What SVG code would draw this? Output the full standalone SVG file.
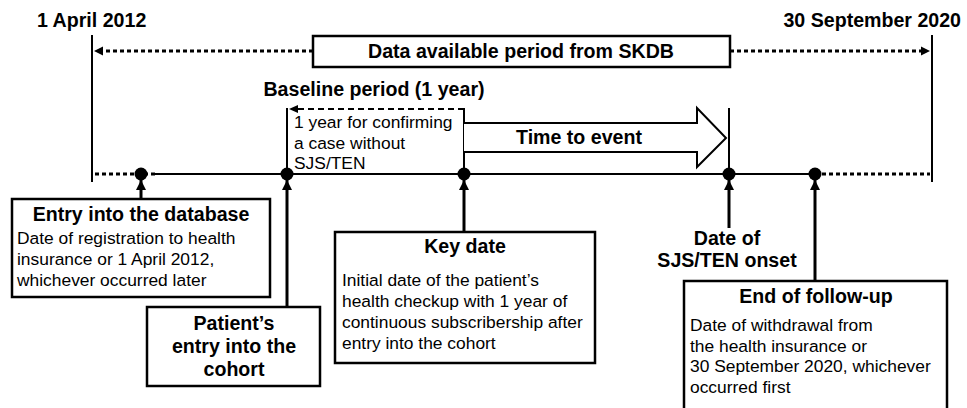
<svg xmlns="http://www.w3.org/2000/svg" width="967" height="408" viewBox="0 0 967 408">
<style>
.b{font-family:"Liberation Sans",Arial,sans-serif;font-weight:bold;font-size:19.6px;fill:#000}
.n{font-family:"Liberation Sans",Arial,sans-serif;font-size:17.4px;fill:#000}
.c{text-anchor:middle}
.box{fill:#fff;stroke:#000;stroke-width:2.5}
.ln{stroke:#000;stroke-width:2;fill:none}
.dot{stroke:#000;stroke-width:3;stroke-dasharray:4 3;fill:none}
.arr{stroke:#000;stroke-width:3;fill:none;marker-end:url(#ah)}
</style>
<defs>
<marker id="ah" markerUnits="userSpaceOnUse" markerWidth="10" markerHeight="10" refX="10" refY="5" orient="auto"><path d="M0,0 L10,5 L0,10 z" fill="#000"/></marker>
</defs>
<rect width="967" height="408" fill="#fff"/>
<g id="connectors">
<line class="ln" x1="92" y1="35" x2="92" y2="182"/>
<line class="ln" x1="932" y1="35" x2="932" y2="182"/>
<line class="dot" x1="313" y1="51" x2="102" y2="51"/>
<path d="M94,51 L103,46.5 L103,55.5 z" fill="#000"/>
<line class="dot" x1="730" y1="51" x2="922" y2="51"/>
<path d="M930,51 L921,46.5 L921,55.5 z" fill="#000"/>
<line class="dot" x1="95" y1="174" x2="157" y2="174"/>
<line class="ln" x1="155" y1="174" x2="815" y2="174" stroke-width="2.5"/>
<line class="dot" x1="815" y1="174" x2="930" y2="174"/>
<line class="ln" x1="287" y1="108" x2="287" y2="174"/>
<line class="ln" x1="464" y1="108" x2="464" y2="174"/>
<line class="ln" x1="729" y1="108" x2="729" y2="174"/>
<line class="ln" x1="464" y1="109" x2="296" y2="109" stroke-dasharray="6 4"/>
<path d="M289,109 L298,105 L298,113 z" fill="#000"/>
<path d="M464,123 L697,123 L697,108 L726,138 L697,167 L697,152 L464,152" fill="#fff" stroke="#000" stroke-width="2"/>
<circle cx="141" cy="174" r="6.5"/>
<circle cx="287" cy="174" r="6.5"/>
<circle cx="464" cy="174" r="6.5"/>
<circle cx="729" cy="174" r="6.5"/>
<circle cx="815" cy="174" r="6.5"/>
<line class="arr" x1="141" y1="199" x2="141" y2="180"/>
<line class="arr" x1="287" y1="307" x2="287" y2="180"/>
<line class="arr" x1="464" y1="232" x2="464" y2="180"/>
<line class="arr" x1="729" y1="228" x2="729" y2="180"/>
<line class="arr" x1="815" y1="281" x2="815" y2="180"/>
</g>
<g id="label-start"><text class="b" x="37" y="27">1 April 2012</text></g>
<g id="label-end"><text class="b" x="961" y="27" text-anchor="end">30 September 2020</text></g>
<g id="data-period">
<rect class="box" x="313" y="36" width="417" height="31"/>
<text class="b c" x="521" y="58">Data available period from SKDB</text>
</g>
<g id="baseline">
<text class="b c" x="374" y="96">Baseline period (1 year)</text>
<text class="n" x="294" y="128">1 year for confirming</text>
<text class="n" x="294" y="149">a case without</text>
<text class="n" x="294" y="169">SJS/TEN</text>
</g>
<g id="time-to-event"><text class="b c" x="579" y="144">Time to event</text></g>
<g id="entry-db">
<rect class="box" x="12" y="199" width="258" height="98"/>
<text class="b c" x="141" y="221">Entry into the database</text>
<text class="n" x="17" y="244">Date of registration to health</text>
<text class="n" x="17" y="265">insurance or 1 April 2012,</text>
<text class="n" x="17" y="286">whichever occurred later</text>
</g>
<g id="patient-entry">
<rect class="box" x="147" y="307" width="173" height="79"/>
<text class="b c" x="234" y="330">Patient’s</text>
<text class="b c" x="234" y="353">entry into the</text>
<text class="b c" x="234" y="376">cohort</text>
</g>
<g id="key-date">
<rect class="box" x="335" y="232" width="260" height="131"/>
<text class="b c" x="465" y="253">Key date</text>
<text class="n" x="342" y="286">Initial date of the patient’s</text>
<text class="n" x="342" y="307">health checkup with 1 year of</text>
<text class="n" x="342" y="328">continuous subscribership after</text>
<text class="n" x="342" y="349">entry into the cohort</text>
</g>
<g id="sjs-onset">
<text class="b c" x="727" y="245">Date of</text>
<text class="b c" x="727" y="267">SJS/TEN onset</text>
</g>
<g id="end-followup">
<rect class="box" x="684" y="281" width="263" height="140"/>
<text class="b c" x="816" y="303">End of follow-up</text>
<text class="n" x="690" y="331">Date of withdrawal from</text>
<text class="n" x="690" y="352">the health insurance or</text>
<text class="n" x="690" y="372">30 September 2020, whichever</text>
<text class="n" x="690" y="393">occurred first</text>
</g>
</svg>
